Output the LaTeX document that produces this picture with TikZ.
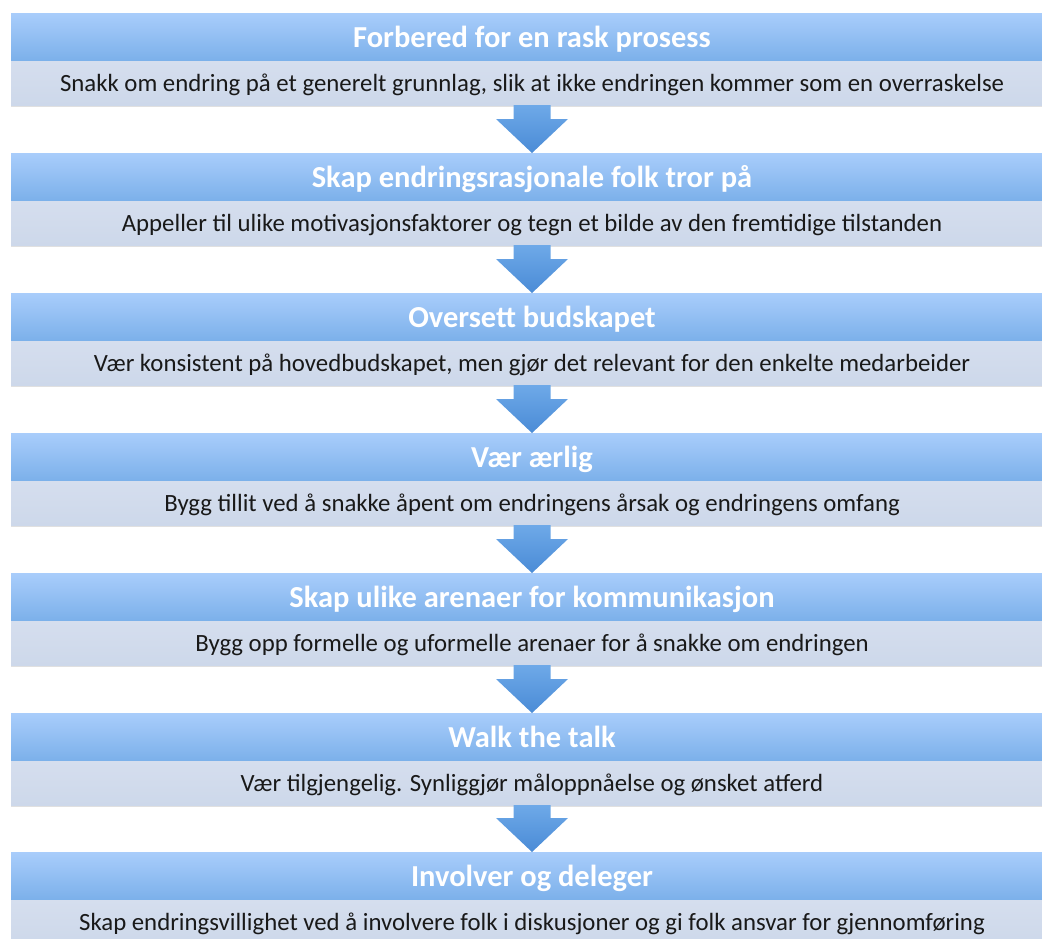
\documentclass[tikz,border=0pt]{standalone}
\usepackage{fontspec}
\setmainfont{Carlito}
\usetikzlibrary{calc}
\definecolor{hdrtop}{HTML}{A9CDFB}
\definecolor{hdrbot}{HTML}{7BB0EA}
\definecolor{bodytop}{HTML}{D5DEEE}
\definecolor{bodybot}{HTML}{CDD8EA}
\definecolor{arrtop}{HTML}{6EA9E8}
\definecolor{arrbot}{HTML}{4A8BD6}
\tikzset{
  hdr/.style={anchor=north west, minimum width=1042pt, minimum height=48pt,
    inner sep=0pt, outer sep=0pt, top color=hdrtop, bottom color=hdrbot,
    text=white, font=\fontsize{30.5}{34}\selectfont\bfseries},
  bodybox/.style={anchor=north, minimum width=1042pt, minimum height=44pt,
    inner sep=0pt, outer sep=0pt, top color=bodytop, bottom color=bodybot,
    text=black!90, font=\fontsize{24.8}{28}\selectfont},
  arrowfill/.style={top color=arrtop, bottom color=arrbot},
  shadowbox/.style={fill=black, opacity=0.12}
}
\newcommand{\flowarrow}[2]{%
  \path[arrowfill] let \p1=(#1.south), \p2=(#2.north) in
    ({\x1-18.5pt},\y1) -- ({\x1+18.5pt},\y1) -- ({\x1+18.5pt},{\y2+34pt})
    -- ({\x1+36pt},{\y2+34pt}) -- (\x1,\y2) -- ({\x1-36pt},{\y2+34pt})
    -- ({\x1-18.5pt},{\y2+34pt}) -- cycle;}
\newcommand{\flowblock}[4]{%
  \fill[shadowbox] (11,{#2+2}) rectangle (1053,{#2+94});
  \node[hdr] (h#1) at (11,#2) {\raisebox{-10.5pt}[0pt][0pt]{#3}};
  \node[bodybox] (b#1) at (h#1.south) {\raisebox{-8.5pt}[0pt][0pt]{#4}};}
\begin{document}
\begin{tikzpicture}[x=1pt,y=-1pt]
\useasboundingbox (0,0) rectangle (1042,938);
\clip (0,0) rectangle (1042,938);
\flowblock{1}{13}{Forbered for en rask prosess}{Snakk om endring på et generelt grunnlag, slik at ikke endringen kommer som en overraskelse}
\flowblock{2}{153}{Skap endringsrasjonale folk tror på}{Appeller til ulike motivasjonsfaktorer og tegn et bilde av den fremtidige tilstanden}
\flowblock{3}{293}{Oversett budskapet}{Vær konsistent på hovedbudskapet, men gjør det relevant for den enkelte medarbeider}
\flowblock{4}{433}{Vær ærlig}{Bygg tillit ved å snakke åpent om endringens årsak og endringens omfang}
\flowblock{5}{573}{Skap ulike arenaer for kommunikasjon}{Bygg opp formelle og uformelle arenaer for å snakke om endringen}
\flowblock{6}{713}{Walk the talk}{Vær tilgjengelig. Synliggjør måloppnåelse og ønsket atferd}
\flowblock{7}{852}{Involver og deleger}{Skap endringsvillighet ved å involvere folk i diskusjoner og gi folk ansvar for gjennomføring}
\flowarrow{b1}{h2}
\flowarrow{b2}{h3}
\flowarrow{b3}{h4}
\flowarrow{b4}{h5}
\flowarrow{b5}{h6}
\flowarrow{b6}{h7}
\end{tikzpicture}
\end{document}
